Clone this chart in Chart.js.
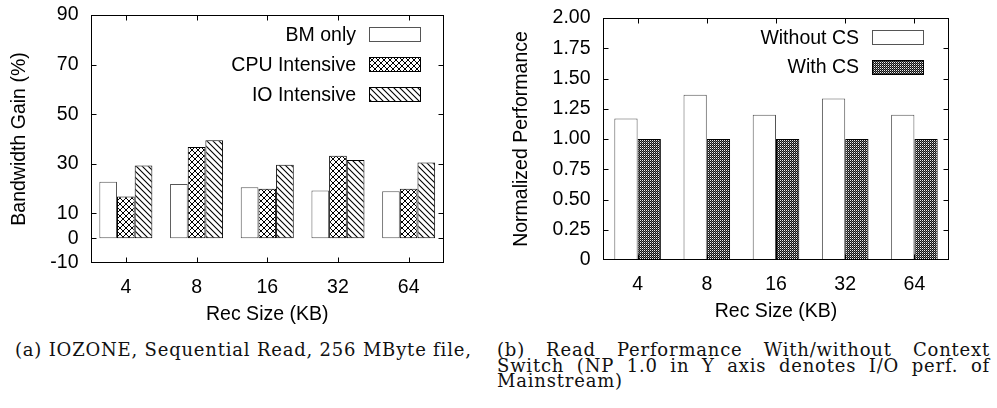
<!DOCTYPE html>
<html>
<head>
<meta charset="utf-8">
<script src="https://cdn.jsdelivr.net/npm/chart.js@4.4.1/dist/chart.umd.min.js"></script>
<style>
  body { margin: 0; background: #fff; width: 997px; height: 408px; position: relative; overflow: hidden; }
  canvas { position: absolute; top: 0; }
  #gainChart { left: 0; }
  #perfChart { left: 490px; }
  .caption { position: absolute; top: 342px; font-family: "DejaVu Serif", serif; font-size: 18px; letter-spacing: 0.8px; line-height: 15.5px; color: #111; }
  #capA { left: 15px; white-space: nowrap; }
  #capB { left: 497px; width: 493px; }
  #capB div { text-align: justify; text-align-last: justify; white-space: nowrap; }
  #capB div.last { text-align-last: left; }
</style>
</head>
<body>
<canvas id="gainChart" width="480" height="330"></canvas>
<canvas id="perfChart" width="507" height="330"></canvas>
<div class="caption" id="capA">(a) IOZONE, Sequential Read, 256 MByte file,</div>
<div class="caption" id="capB">
  <div>(b) Read Performance With/without Context</div>
  <div>Switch (NP 1.0 in Y axis denotes I/O perf. of</div>
  <div class="last">Mainstream)</div>
</div>
<script>
// data
const recSizes = ['4', '8', '16', '32', '64'];

const bmOnly       = [22.8, 21.9, 20.5, 19.2, 18.9];
const cpuIntensive = [16.8, 36.8, 19.9, 33.2, 19.9];
const ioIntensive  = [29.3, 39.5, 29.6, 31.5, 30.5];
const gainTicks    = [-10, 0, 10, 30, 50, 70, 90];

const withoutCS = [1.17, 1.365, 1.20, 1.335, 1.20];
const withCS    = [1.00, 1.00, 1.00, 1.00, 1.00];
const perfTicks = [0, 0.25, 0.5, 0.75, 1, 1.25, 1.5, 1.75, 2];

const FONT = { family: '"Liberation Sans", Arial, sans-serif', size: 19.5 };

// fill patterns like the gnuplot ones
function makePattern(size, draw) {
    const c = document.createElement('canvas');
    c.width = size; c.height = size;
    const g = c.getContext('2d');
    g.fillStyle = '#fff';
    g.fillRect(0, 0, size, size);
    draw(g, size);
    return g.createPattern(c, 'repeat');
}

const crossHatch = makePattern(6, (g, s) => {
    g.strokeStyle = '#000'; g.lineWidth = 1;
    g.beginPath();
    g.moveTo(0, 0); g.lineTo(s, s);
    g.moveTo(s, 0); g.lineTo(0, s);
    g.stroke();
});

const backSlash = makePattern(6, (g, s) => {
    g.strokeStyle = '#000'; g.lineWidth = 1.1;
    g.beginPath();
    g.moveTo(-1, -1); g.lineTo(s + 1, s + 1);
    g.moveTo(s - 1, -1); g.lineTo(s + 1, 1);
    g.moveTo(-1, s - 1); g.lineTo(1, s + 1);
    g.stroke();
});

const denseDots = makePattern(2, (g) => {
    g.fillStyle = '#111';
    g.fillRect(0, 0, 2, 2);
    g.fillStyle = '#eee';
    g.fillRect(0, 0, 1, 1);
    g.fillStyle = '#666';
    g.fillRect(1, 1, 1, 1);
});

// border, inward ticks on all four sides and the legend, gnuplot style
const framePlugin = {
    id: 'frame',
    afterDraw(chart, args, opts) {
        const { ctx, chartArea: a, scales: { x, y } } = chart;
        const L = Math.round(a.left) + 0.5, R = Math.round(a.right) - 0.5;
        const T = Math.round(a.top) + 0.5, B = Math.round(a.bottom) - 0.5;
        ctx.save();
        ctx.strokeStyle = '#000';
        ctx.lineWidth = 1;
        ctx.strokeRect(L, T, R - L, B - T);
        ctx.beginPath();
        y.ticks.forEach(t => {
            const py = Math.round(y.getPixelForValue(t.value)) + 0.5;
            if (py <= T + 1 || py >= B - 1) return;
            ctx.moveTo(L, py); ctx.lineTo(L + 5, py);
            ctx.moveTo(R, py); ctx.lineTo(R - 5, py);
        });
        recSizes.forEach((c, i) => {
            const px = Math.round(x.getPixelForValue(i)) + 0.5;
            ctx.moveTo(px, B); ctx.lineTo(px, B - 5);
            ctx.moveTo(px, T); ctx.lineTo(px, T + 5);
        });
        ctx.stroke();

        // legend: label right aligned, then a sample box
        ctx.font = FONT.size + 'px ' + FONT.family;
        ctx.textAlign = 'right';
        ctx.textBaseline = 'middle';
        chart.data.datasets.forEach((ds, i) => {
            const cy = a.top + opts.first + i * opts.step;
            const bx = Math.round(a.right - opts.inset - opts.boxW);
            const by = Math.round(cy - 7.5);
            ctx.fillStyle = ds.backgroundColor;
            ctx.fillRect(bx, by, opts.boxW, 15);
            ctx.strokeStyle = ds.borderColor;
            ctx.strokeRect(bx + 0.5, by + 0.5, opts.boxW - 1, 14);
            ctx.fillStyle = '#000';
            ctx.fillText(ds.label, bx - 13, cy + 1);
        });
        ctx.restore();
    }
};

function barChart(id, datasets, yOpts, geo) {
    return new Chart(document.getElementById(id), {
        type: 'bar',
        data: { labels: recSizes, datasets },
        plugins: [framePlugin],
        options: {
            responsive: false,
            animation: false,
            layout: { padding: { top: geo.top, right: geo.right, left: 0, bottom: 0 } },
            datasets: { bar: { categoryPercentage: geo.catPct, barPercentage: 1, borderWidth: 1, borderSkipped: false } },
            plugins: {
                legend: { display: false },
                tooltip: { enabled: false },
                frame: { first: 19.8, step: geo.step, inset: geo.inset, boxW: 52 }
            },
            scales: {
                x: {
                    grid: { display: false, drawTicks: false },
                    border: { display: false },
                    afterFit: s => { s.height = geo.xHeight; s.paddingLeft = 0; s.paddingRight = 0; },
                    ticks: { font: FONT, color: '#000', padding: 12.5 },
                    title: { display: true, text: 'Rec Size (KB)', font: FONT, color: '#000', padding: { top: 0, bottom: geo.xTitlePad } }
                },
                y: Object.assign({
                    grid: { display: false, drawTicks: false },
                    border: { display: false },
                    afterFit: s => { s.width = geo.yWidth; s.paddingTop = 0; s.paddingBottom = 0; }
                }, yOpts)
            }
        }
    });
}

barChart('gainChart', [
    { label: 'BM only', data: bmOnly, backgroundColor: '#fff', borderColor: '#555' },
    { label: 'CPU Intensive', data: cpuIntensive, backgroundColor: crossHatch, borderColor: '#000' },
    { label: 'IO Intensive', data: ioIntensive, backgroundColor: backSlash, borderColor: '#000' }
], {
    min: gainTicks[0],
    max: gainTicks[gainTicks.length - 1],
    afterBuildTicks: s => { s.ticks = gainTicks.map(v => ({ value: v })); },
    ticks: { font: FONT, color: '#000', padding: 12 },
    title: { display: true, text: 'Bandwidth Gain (%)', font: FONT, color: '#000', padding: { top: 8.3, bottom: 0 } }
}, { top: 15, right: 36, yWidth: 90.5, xHeight: 67, xTitlePad: 3.5, catPct: 0.75, step: 29.7, inset: 23 });

barChart('perfChart', [
    { label: 'Without CS', data: withoutCS, backgroundColor: '#fff', borderColor: '#555' },
    { label: 'With CS', data: withCS, backgroundColor: denseDots, borderColor: '#000' }
], {
    min: perfTicks[0],
    max: perfTicks[perfTicks.length - 1],
    afterBuildTicks: s => { s.ticks = perfTicks.map(v => ({ value: v })); },
    ticks: { font: FONT, color: '#000', padding: 12.5, callback: v => v === 0 ? '0' : v.toFixed(2) },
    title: { display: true, text: 'Normalized Performance', font: FONT, color: '#000', padding: { top: 20, bottom: 0 } }
}, { top: 18, right: 48, yWidth: 113, xHeight: 70, xTitlePad: 6.5, catPct: 0.673, step: 29.2, inset: 24.7 });
</script>
</body>
</html>
